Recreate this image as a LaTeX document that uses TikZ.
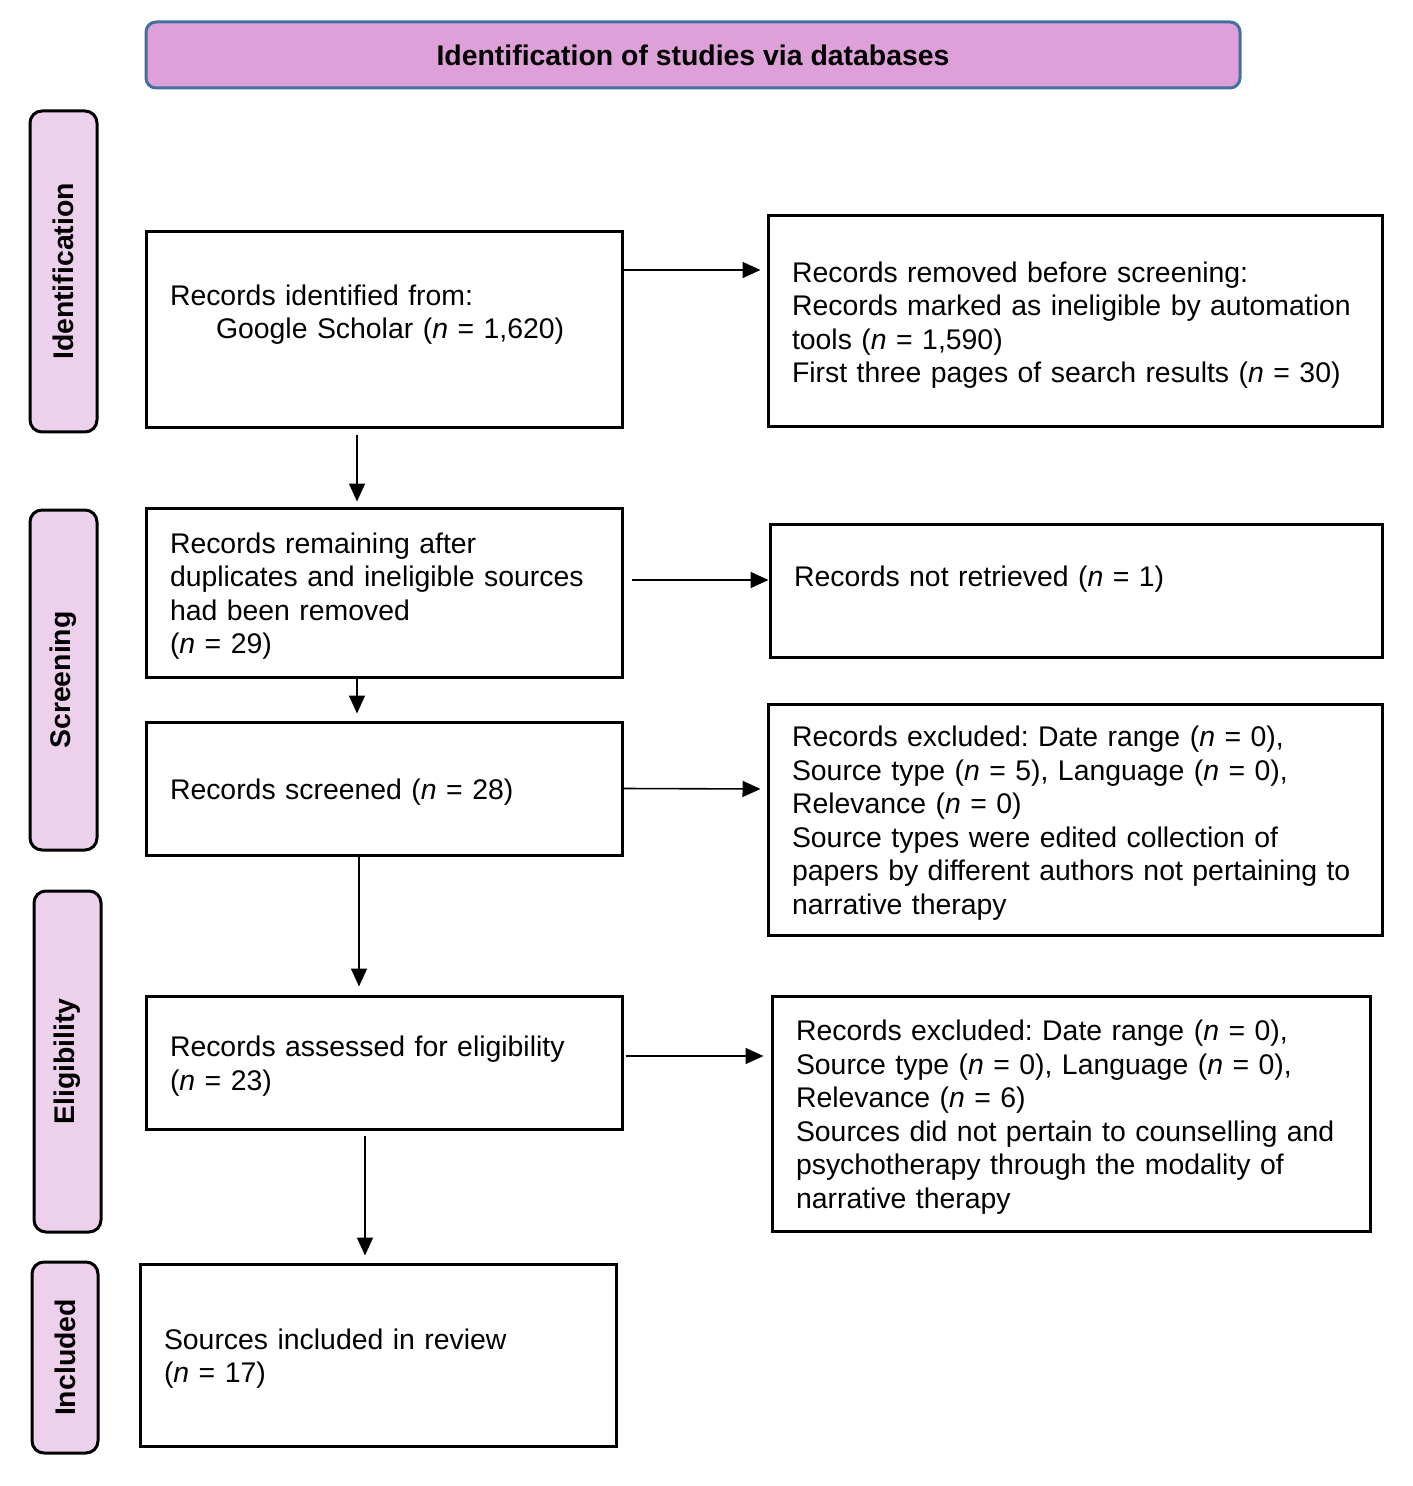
\documentclass[tikz,border=0pt]{standalone}
\usepackage{fontspec}
\setmainfont{Liberation Sans}
\usepackage{amsmath}
\usetikzlibrary{arrows.meta}
\frenchspacing

\definecolor{headfill}{RGB}{221,160,216}
\definecolor{headline}{RGB}{65,113,156}
\definecolor{tabfill}{RGB}{236,208,236}

\begin{document}
\begin{tikzpicture}[x=0.5pt, y=-0.5pt,
	>={Triangle[length=9pt,width=8pt]},
	every node/.style={font=\fontsize{14.2}{16.75}\selectfont},
	box/.style={shape=rectangle, draw=black, line width=1.5pt, align=left, inner xsep=12pt, inner ysep=0pt, execute at begin node={\rule{0pt}{14pt}}},
	tab/.style={shape=rectangle, rounded corners=6pt, draw=black, fill=tabfill, line width=1.5pt, rotate=90, minimum height=33.5pt, inner sep=0pt, font=\fontsize{14.2}{16.75}\selectfont\bfseries}]

	\useasboundingbox (0,0) rectangle (1412,1486);

	\node[shape=rectangle, rounded corners=5pt, draw=headline, fill=headfill, line width=1.5pt, minimum width=547pt, minimum height=33pt] (head) at (693,55) {\bfseries Identification of studies via databases};

	\node[tab, minimum width=160.5pt] (idtab) at (63.5,271.5)    {Identification};
	\node[tab, minimum width=170pt] (scrtab) at (63.5,680)       {Screening};
	\node[tab, minimum width=170.5pt] (eligtab) at (67.5,1061.5) {Eligibility};
	\node[tab, minimum width=95.5pt, minimum height=33pt] (incltab) at (65,1357.5) {Included};

	\node[box, text width=214pt, minimum height=98pt] (idbox) at (384,330)
		{Records identified from:\\\hspace*{23pt}Google Scholar (\textit{n} = 1,620)\\\strut};
	\node[box, text width=283pt, minimum height=105.5pt] (removedbox) at (1075,321.5)
		{Records removed before screening:\\Records marked as ineligible by automation\\tools (\textit{n} = 1,590)\\First three pages of search results (\textit{n} = 30)};

	\node[box, text width=214pt, minimum height=84.5pt] (remainbox) at (384,592.5)
		{Records remaining after\\duplicates and ineligible sources\\had been removed\\(\textit{n} = 29)};
	\node[box, text width=282pt, minimum height=66.5pt] (notretbox) at (1076,590.5)
		{Records not retrieved (\textit{n} = 1)\\[-3.3pt]\strut};

	\node[box, text width=214pt, minimum height=66.5pt] (screenbox) at (384,788.5)
		{Records screened (\textit{n} = 28)};
	\node[box, text width=283pt, minimum height=115.5pt] (excl1box) at (1075,819.5)
		{Records excluded: Date range (\textit{n} = 0),\\Source type (\textit{n} = 5), Language (\textit{n} = 0),\\Relevance (\textit{n} = 0)\\Source types were edited collection of\\papers by different authors not pertaining to\\narrative therapy};

	\node[box, text width=214pt, minimum height=66.5pt] (eligbox) at (384,1062.5)
		{Records assessed for eligibility\\(\textit{n} = 23)};
	\node[box, text width=275pt, minimum height=117.5pt] (excl2box) at (1071,1113.5)
		{Records excluded: Date range (\textit{n} = 0),\\Source type (\textit{n} = 0), Language (\textit{n} = 0),\\Relevance (\textit{n} = 6)\\Sources did not pertain to counselling and\\psychotherapy through the modality of\\narrative therapy};

	\node[box, text width=214pt, minimum height=91pt] (inclbox) at (378,1355)
		{Sources included in review\\(\textit{n} = 17)};


    \path[->, thick] ([yshift=30pt]idbox.east) edge[shorten >=3pt] ([yshift=25.75pt]removedbox.west);
    \path[->, thick] ([xshift=-13.5pt]idbox.south) edge[shorten <=2.5pt, shorten >=2.5pt] ([xshift=-13.5pt]remainbox.north);

    \path[->, thick] ([yshift=6.25pt]remainbox.east) edge[shorten <=4pt] ([yshift=5.25pt]notretbox.west);
    \path[->, thick] ([xshift=-13.5pt]remainbox.south) edge[shorten >=3.5pt] ([xshift=-13.5pt]screenbox.north);

    \path[->, thick] (screenbox.east) edge[shorten >=3pt] ([yshift=15.25pt]excl1box.west);
    \path[->, thick] ([xshift=-12.5pt]screenbox.south) edge[shorten >=4pt] ([xshift=-12.5pt]eligbox.north);

    \path[->, thick] ([yshift=3.25pt]eligbox.east) edge[shorten <=1pt, shorten >=3.5pt] ([yshift=28.75pt]excl2box.west);
    \path[->, thick] ([xshift=-9.5pt]eligbox.south) edge[shorten <=2.5pt, shorten >=3.5pt] ([xshift=-6.5pt]inclbox.north);

\end{tikzpicture}
\end{document}
